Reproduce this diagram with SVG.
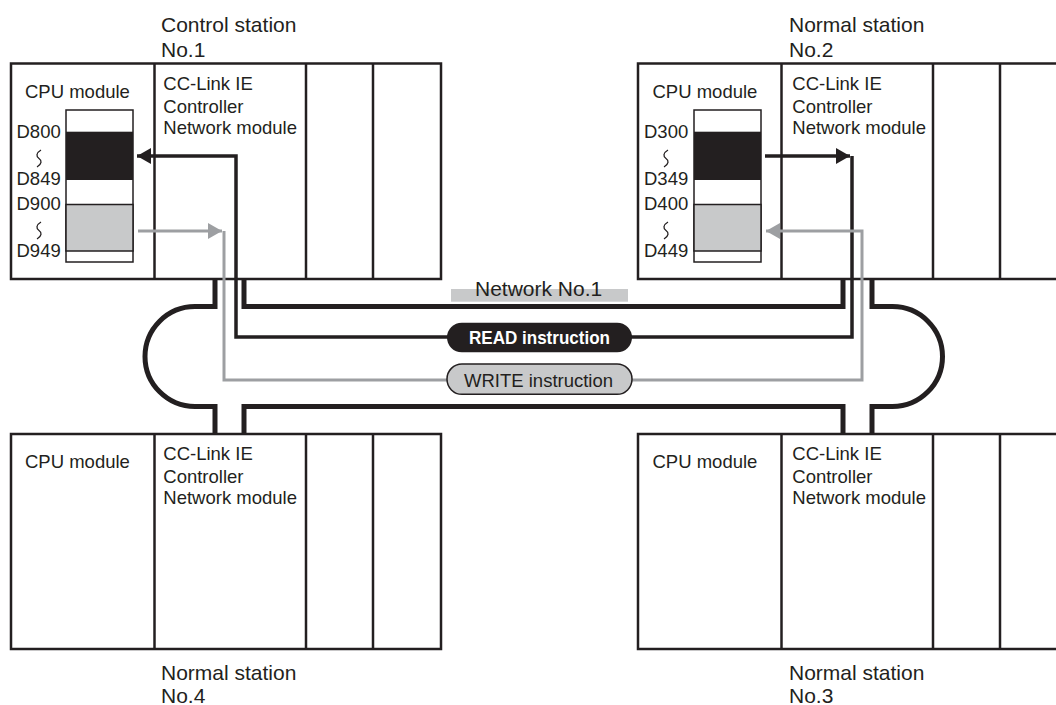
<svg xmlns="http://www.w3.org/2000/svg" width="1056" height="705" viewBox="0 0 1056 705">
<style>
text{font-family:"Liberation Sans",Arial,sans-serif;fill:#231f20}
.t{font-size:21px}
.m{font-size:18.5px}
.frame{fill:#fff;stroke:#231f20;stroke-width:2.5}
.div{stroke:#231f20;stroke-width:2.5}
.pipe{fill:none;stroke:#231f20;stroke-width:5}
.rd{fill:none;stroke:#231f20;stroke-width:3.5}
.wr{fill:none;stroke:#9d9fa2;stroke-width:3}
.wave{fill:none;stroke:#231f20;stroke-width:1.3}
.box{fill:#fff;stroke:#231f20;stroke-width:1.5}
</style>
<defs>
<marker id="ah" viewBox="0 0 14 16" refX="14" refY="8" markerWidth="14" markerHeight="16" markerUnits="userSpaceOnUse" orient="auto"><path d="M0,0 L14,8 L0,16 Z" fill="#231f20"/></marker>
<marker id="ag" viewBox="0 0 14 16" refX="14" refY="8" markerWidth="14" markerHeight="16" markerUnits="userSpaceOnUse" orient="auto"><path d="M0,0 L14,8 L0,16 Z" fill="#9d9fa2"/></marker>
</defs>
<rect width="1056" height="705" fill="#fff"/>

<!-- Station No.1 -->
<g id="station1">
<text class="t" x="161" y="32">Control station</text>
<text class="t" x="161" y="57">No.1</text>
<rect class="frame" x="11" y="63.5" width="430" height="215.5"/>
<line class="div" x1="154.5" y1="63.5" x2="154.5" y2="279"/>
<line class="div" x1="306" y1="63.5" x2="306" y2="279"/>
<line class="div" x1="373" y1="63.5" x2="373" y2="279"/>
<text class="m" x="25" y="97.7">CPU module</text>
<text class="m" x="163.3" y="90">CC-Link IE</text>
<text class="m" x="163.3" y="112.7">Controller</text>
<text class="m" x="163.3" y="134.3">Network module</text>
<rect class="box" x="66" y="110" width="67" height="152"/>
<rect x="66" y="131.7" width="67" height="48.3" fill="#231f20"/>
<rect x="66" y="204.5" width="67" height="46.5" fill="#c8c9ca" stroke="#231f20" stroke-width="1.5"/>
<text class="m" x="16.5" y="137.7">D800</text>
<path class="wave" d="M41,150 C36,153 36,156.5 39,158.5 C42,160.5 42,164 37,167"/>
<text class="m" x="16.5" y="185">D849</text>
<text class="m" x="16.5" y="210">D900</text>
<path class="wave" d="M41,222 C36,225 36,228.5 39,230.5 C42,232.5 42,236 37,239"/>
<text class="m" x="16.5" y="256.7">D949</text>
</g>

<!-- Station No.2 -->
<g id="station2">
<text class="t" x="789" y="32">Normal station</text>
<text class="t" x="789" y="57">No.2</text>
<rect class="frame" x="638" y="63.5" width="430" height="215.5"/>
<line class="div" x1="781.5" y1="63.5" x2="781.5" y2="279"/>
<line class="div" x1="933" y1="63.5" x2="933" y2="279"/>
<line class="div" x1="1000" y1="63.5" x2="1000" y2="279"/>
<text class="m" x="652.5" y="97.7">CPU module</text>
<text class="m" x="792.3" y="90">CC-Link IE</text>
<text class="m" x="792.3" y="112.7">Controller</text>
<text class="m" x="792.3" y="134.3">Network module</text>
<rect class="box" x="694" y="110" width="67" height="152"/>
<rect x="694" y="131.7" width="67" height="48.3" fill="#231f20"/>
<rect x="694" y="204.5" width="67" height="46.5" fill="#c8c9ca" stroke="#231f20" stroke-width="1.5"/>
<text class="m" x="644" y="137.7">D300</text>
<path class="wave" d="M668,150 C663,153 663,156.5 666,158.5 C669,160.5 669,164 664,167"/>
<text class="m" x="644" y="185">D349</text>
<text class="m" x="644" y="210">D400</text>
<path class="wave" d="M668,222 C663,225 663,228.5 666,230.5 C669,232.5 669,236 664,239"/>
<text class="m" x="644" y="256.7">D449</text>
</g>

<!-- Station No.4 -->
<g id="station4">
<rect class="frame" x="11" y="434" width="430" height="215"/>
<line class="div" x1="154.5" y1="434" x2="154.5" y2="649"/>
<line class="div" x1="306" y1="434" x2="306" y2="649"/>
<line class="div" x1="373" y1="434" x2="373" y2="649"/>
<text class="m" x="25" y="468">CPU module</text>
<text class="m" x="163.3" y="459.5">CC-Link IE</text>
<text class="m" x="163.3" y="482.5">Controller</text>
<text class="m" x="163.3" y="504.3">Network module</text>
<text class="t" x="161" y="679.5">Normal station</text>
<text class="t" x="161" y="703">No.4</text>
</g>

<!-- Station No.3 -->
<g id="station3">
<rect class="frame" x="638" y="434" width="430" height="215"/>
<line class="div" x1="781.5" y1="434" x2="781.5" y2="649"/>
<line class="div" x1="933" y1="434" x2="933" y2="649"/>
<line class="div" x1="1000" y1="434" x2="1000" y2="649"/>
<text class="m" x="652.5" y="468">CPU module</text>
<text class="m" x="792.3" y="459.5">CC-Link IE</text>
<text class="m" x="792.3" y="482.5">Controller</text>
<text class="m" x="792.3" y="504.3">Network module</text>
<text class="t" x="789" y="679.5">Normal station</text>
<text class="t" x="789" y="703">No.3</text>
</g>

<!-- Network ring and instruction paths -->
<g id="connectors">
<path class="pipe" d="M215,280 V306.5 H195 A50,50 0 0 0 195,406.5 H215 V433"/>
<path class="pipe" d="M244,280 V306.5 H843 V280"/>
<path class="pipe" d="M244,433 V406.5 H843 V433"/>
<path class="pipe" d="M872,280 V306.5 H892.5 A50,50 0 0 1 892.5,406.5 H872 V433"/>
<path class="rd" d="M448,337 H236 V156 H137" marker-end="url(#ah)"/>
<path class="rd" d="M631,337 H852 V156"/>
<path class="rd" d="M765,156 H850" marker-end="url(#ah)"/>
<path class="wr" d="M448,380 H224 V231"/>
<path class="wr" d="M138,231 H222" marker-end="url(#ag)"/>
<path class="wr" d="M631,380 H862 V231 H766" marker-end="url(#ag)"/>
</g>

<g id="network-label">
<rect x="451" y="289" width="177" height="12.7" fill="#c8c9ca"/>
<text class="t" x="475" y="296">Network No.1</text>
</g>
<g id="read-label">
<rect x="447" y="322.7" width="185" height="29.6" rx="14.8" fill="#231f20"/>
<text x="469" y="344.3" font-size="18.5" font-weight="bold" style="fill:#fff" textLength="141" lengthAdjust="spacingAndGlyphs">READ instruction</text>
</g>
<g id="write-label">
<rect x="447" y="364" width="185" height="30.3" rx="15" fill="#c8c9ca" stroke="#231f20" stroke-width="1.5"/>
<text class="m" x="464" y="386.7">WRITE instruction</text>
</g>
</svg>
